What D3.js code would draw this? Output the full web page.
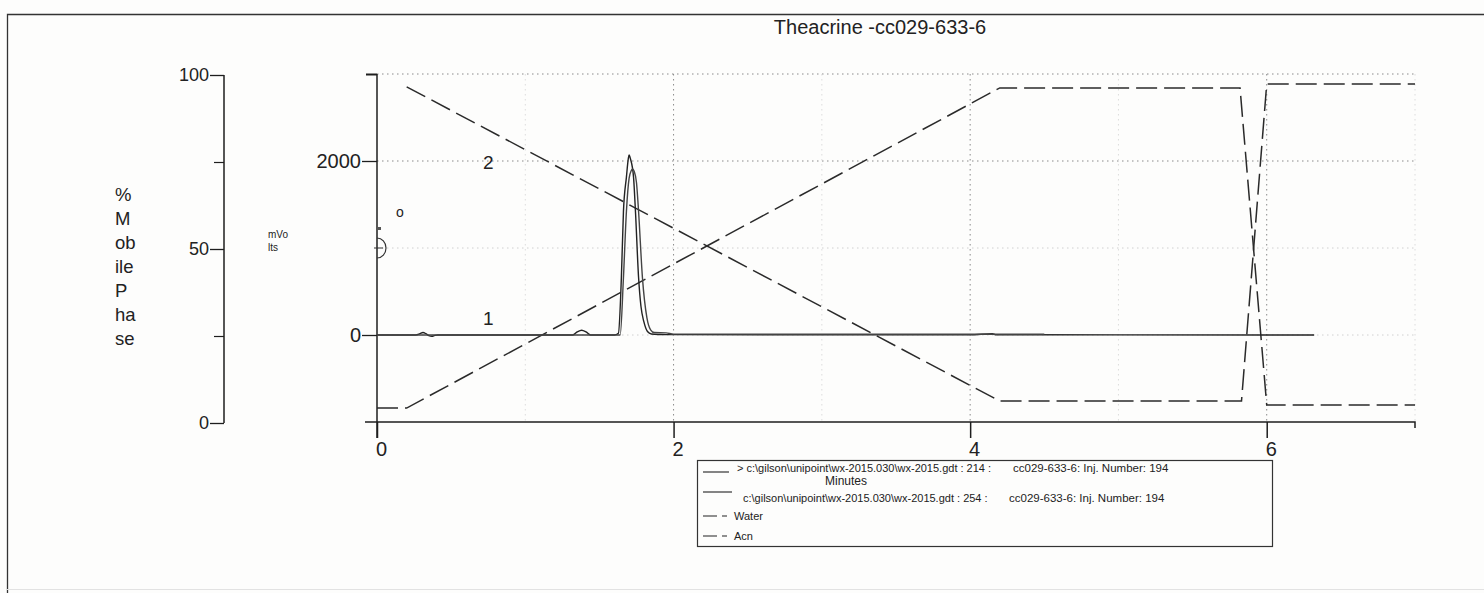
<!DOCTYPE html>
<html>
<head>
<meta charset="utf-8">
<script src="https://cdn.jsdelivr.net/npm/d3@7"></script>
<style>
  html, body { margin: 0; padding: 0; background: #fdfdfc; }
  svg { display: block; }
  text { font-family: "Liberation Sans", Arial, sans-serif; fill: #222; }
</style>
</head>
<body>
<svg id="chart" width="1484" height="593"></svg>
<script>
// ---------------- DATA ----------------
const title = "Theacrine -cc029-633-6";
const xTicks = [0, 2, 4, 6];
const mvTicks = [0, 2000];
const pctTicks = [0, 50, 100];
const pctMinorTicks = [25, 75];

// Channel 214 (time in min, mV)
const trace214Time = [0, 0.26, 0.29, 0.31, 0.33, 0.35, 0.37, 0.39, 0.41, 0.5, 1.0, 1.32, 1.35, 1.38, 1.41, 1.44, 1.6, 1.628, 1.648, 1.662, 1.682, 1.695, 1.70, 1.71, 1.73, 1.743, 1.764, 1.78, 1.80, 1.824, 1.85, 1.9, 2.0, 3.0, 4.0, 4.15, 4.17, 5.0, 6.32];
const trace214Mv   = [0, 0, 15, 28, 15, -8, -15, -5, 0, 0, 0, 0, 35, 55, 35, 0, 0, 20, 660, 1420, 1815, 2030, 2070, 2020, 1815, 1420, 660, 330, 150, 40, 12, 6, 4, 3, 3, 15, 3, 2, 0];

// Channel 254 (time in min, mV)
const trace254Time = [0, 0.5, 1.0, 1.5, 1.64, 1.662, 1.682, 1.70, 1.715, 1.723, 1.735, 1.75, 1.764, 1.79, 1.82, 1.845, 1.87, 1.95, 2.0, 3.0, 4.0, 4.5];
const trace254Mv   = [0, 0, 0, 0, 0, 660, 1420, 1800, 1890, 1908, 1880, 1750, 1420, 660, 200, 60, 28, 25, 10, 8, 8, 8];

// Gradient (% mobile phase)
const waterTime = [0.2, 4.2, 5.83, 6.0, 7.0];
const waterPct  = [96.6, 6.3, 6.3, 97.4, 97.4];
const acnTime   = [0, 0.2, 4.2, 5.82, 6.0, 7.0];
const acnPct    = [4.3, 4.3, 96.3, 96.3, 5.2, 5.2];

const legendFiles = ["> c:\\gilson\\unipoint\\wx-2015.030\\wx-2015.gdt : 214 :", "c:\\gilson\\unipoint\\wx-2015.030\\wx-2015.gdt : 254 :"];
const legendInj = ["cc029-633-6: Inj. Number: 194", "cc029-633-6: Inj. Number: 194"];
const legendGradient = ["Water", "Acn"];
const pctLabelLines = ["%", "M", "ob", "ile", "P", "ha", "se"];

// ---------------- SCALES ----------------
const svg = d3.select("#chart");
const x = d3.scaleLinear([0, 7], [377, 1415]);
const yMv = d3.scaleLinear([-1000, 3000], [422, 74]);
const yPct = d3.scaleLinear([0, 100], [423, 75]);

const ink = "#1e1e1e";

// page frame
svg.append("path").attr("d", "M7.5,600 V14.5 H1490").attr("fill", "none").attr("stroke", "#333").attr("stroke-width", 1.3);
svg.append("line").attr("x1", 7).attr("x2", 1484).attr("y1", 589.5).attr("y2", 589.5).attr("stroke", "#e2e2e2").attr("stroke-width", 1);

// title
svg.append("text").attr("x", 880).attr("y", 34).attr("text-anchor", "middle").style("font-size", "20px").text(title);

// ---------------- GRID ----------------
const grid = svg.append("g").attr("stroke", "#8a8a8a").attr("stroke-width", 1).attr("stroke-dasharray", "1.5,3.5").attr("fill", "none");
[3000, 2000].forEach(v => grid.append("line").attr("x1", x(0)).attr("x2", x(7)).attr("y1", yMv(v)).attr("y2", yMv(v)));
[1000, 0].forEach(v => grid.append("line").attr("x1", x(0)).attr("x2", x(7)).attr("y1", yMv(v)).attr("y2", yMv(v)).attr("stroke", "#d0d0d0"));
[2, 4, 6].forEach(v => grid.append("line").attr("x1", x(v)).attr("x2", x(v)).attr("y1", yMv(3000)).attr("y2", yMv(-1000)));
[1, 3, 5, 7].forEach(v => grid.append("line").attr("x1", x(v)).attr("x2", x(v)).attr("y1", yMv(3000)).attr("y2", yMv(-1000)).attr("stroke", "#dcdcdc"));

// ---------------- % MOBILE PHASE AXIS ----------------
const pctAxis = svg.append("g").attr("transform", "translate(224,0)")
  .call(d3.axisLeft(yPct).tickValues(pctTicks).tickSize(14).tickPadding(1).tickFormat(d3.format("d")));
pctAxis.select(".domain").attr("stroke", ink).attr("stroke-width", 1.5).attr("d", `M0,${yPct(100)}V${yPct(0)}`);
pctAxis.selectAll(".tick line").attr("stroke", ink).attr("stroke-width", 1.3);
pctAxis.selectAll(".tick text").style("font-size", "18px").style("font-family", "Liberation Sans, Arial, sans-serif").attr("fill", "#222");
const pctMinor = svg.append("g").attr("transform", "translate(224,0)")
  .call(d3.axisLeft(yPct).tickValues(pctMinorTicks).tickSize(10).tickFormat(""));
pctMinor.select(".domain").remove();
pctMinor.selectAll(".tick line").attr("stroke", ink).attr("stroke-width", 1.2);

const pctLabel = svg.append("text").attr("x", 115).attr("y", 201).style("font-size", "18.5px");
pctLabelLines.forEach((s, i) => pctLabel.append("tspan").attr("x", 115).attr("dy", i === 0 ? 0 : 24).text(s));

// mVolts label
const mvLabel = svg.append("text").attr("x", 268).attr("y", 238).style("font-size", "10px").style("font-family", "Liberation Sans Narrow, Arial Narrow, Liberation Sans, sans-serif");
mvLabel.append("tspan").attr("x", 268).text("mVo");
mvLabel.append("tspan").attr("x", 268).attr("dy", 13).text("lts");

// ---------------- mV AXIS ----------------
const mvAxis = svg.append("g").attr("transform", `translate(${x(0)},0)`)
  .call(d3.axisLeft(yMv).tickValues(mvTicks).tickSize(15).tickPadding(1).tickFormat(d3.format("d")));
mvAxis.select(".domain").attr("stroke", ink).attr("stroke-width", 1.5).attr("d", `M0,${yMv(3000)}V${yMv(-1000) + 16}`);
mvAxis.selectAll(".tick line").attr("stroke", ink).attr("stroke-width", 1.3);
mvAxis.selectAll(".tick text").style("font-size", "20px").style("font-family", "Liberation Sans, Arial, sans-serif").attr("fill", "#222");
const mvTop = svg.append("g").attr("transform", `translate(${x(0)},0)`)
  .call(d3.axisLeft(yMv).tickValues([3000]).tickSize(11).tickFormat(""));
mvTop.select(".domain").remove();
mvTop.selectAll(".tick line").attr("stroke", ink).attr("stroke-width", 2);

// ---------------- TIME AXIS ----------------
const xAxis = svg.append("g").attr("transform", `translate(0,${yMv(-1000)})`)
  .call(d3.axisBottom(x).tickValues(xTicks).tickSize(16).tickPadding(4).tickFormat(d3.format("d")));
xAxis.select(".domain").attr("stroke", ink).attr("stroke-width", 1.5).attr("d", `M${x(0) - 12},0H${x(7)}V6`);
xAxis.selectAll(".tick line").attr("stroke", ink).attr("stroke-width", 1.5);
xAxis.selectAll(".tick text").style("font-size", "20px").style("font-family", "Liberation Sans, Arial, sans-serif").attr("fill", "#222").attr("dx", 4);

// ---------------- GRADIENT LINES ----------------
const pctLine = d3.line().x(d => x(d[0])).y(d => yPct(d[1]));
svg.append("path").datum(d3.zip(waterTime, waterPct)).attr("d", pctLine)
  .attr("fill", "none").attr("stroke", "#2a2a2a").attr("stroke-width", 1.5).attr("stroke-dasharray", "21,7");
svg.append("path").datum(d3.zip(acnTime, acnPct)).attr("d", pctLine)
  .attr("fill", "none").attr("stroke", "#2a2a2a").attr("stroke-width", 1.5).attr("stroke-dasharray", "21,7");

// ---------------- CHROMATOGRAM TRACES ----------------
const mvLine = d3.line().x(d => x(d[0])).y(d => yMv(d[1])).curve(d3.curveMonotoneX);
svg.append("path").datum(d3.zip(trace214Time, trace214Mv)).attr("d", mvLine)
  .attr("fill", "none").attr("stroke", "#222").attr("stroke-width", 1.4);
svg.append("path").datum(d3.zip(trace254Time, trace254Mv)).attr("d", mvLine)
  .attr("fill", "none").attr("stroke", "#444").attr("stroke-width", 1.4);

// channel labels
svg.append("text").attr("x", x(0.75)).attr("y", yMv(2000) + 8).attr("text-anchor", "middle").style("font-size", "19px").text("2");
svg.append("text").attr("x", x(0.75)).attr("y", yMv(200) + 7).attr("text-anchor", "middle").style("font-size", "19px").text("1");

// injection marker near axis
svg.append("path")
  .attr("d", `M${x(0) - 3},${yMv(1000)} H${x(0) + 6} M${x(0)},${yMv(1000) - 10} A9,10 0 0 1 ${x(0)},${yMv(1000) + 10}`)
  .attr("fill", "none").attr("stroke", "#333").attr("stroke-width", 1.2);
svg.append("rect").attr("x", x(0) + 1).attr("y", yMv(1000) - 21).attr("width", 3).attr("height", 3).attr("fill", "#555");
svg.append("text").attr("x", x(0.155)).attr("y", yMv(1410) + 5).attr("text-anchor", "middle").style("font-size", "14px").text("o");

// ---------------- LEGEND ----------------
const lg = svg.append("g");
lg.append("rect").attr("x", 697.5).attr("y", 460.5).attr("width", 575).attr("height", 86)
  .attr("fill", "none").attr("stroke", "#333").attr("stroke-width", 1.2);
const rowY = [472, 502, 520, 540];
// sample lines
lg.append("line").attr("x1", 703).attr("x2", 729).attr("y1", rowY[0]).attr("y2", rowY[0]).attr("stroke", "#222").attr("stroke-width", 1.1);
lg.append("line").attr("x1", 703).attr("x2", 732).attr("y1", rowY[1] - 10).attr("y2", rowY[1] - 10).attr("stroke", "#222").attr("stroke-width", 1.1);
[2, 3].forEach(i => {
  lg.append("line").attr("x1", 703).attr("x2", 728).attr("y1", rowY[i] - 4).attr("y2", rowY[i] - 4)
    .attr("stroke", "#222").attr("stroke-width", 1.2).attr("stroke-dasharray", "14,5,5,5");
});
lg.append("text").attr("x", 737).attr("y", rowY[0]).style("font-size", "11px").text(legendFiles[0]);
lg.append("text").attr("x", 1013).attr("y", rowY[0]).style("font-size", "11.5px").text(legendInj[0]);
lg.append("text").attr("x", 743).attr("y", rowY[1]).style("font-size", "11px").text(legendFiles[1]);
lg.append("text").attr("x", 1009).attr("y", rowY[1]).style("font-size", "11.5px").text(legendInj[1]);
lg.append("text").attr("x", 734).attr("y", rowY[2]).style("font-size", "11px").text(legendGradient[0]);
lg.append("text").attr("x", 734).attr("y", rowY[3]).style("font-size", "11px").text(legendGradient[1]);

// x-axis title
svg.append("text").attr("x", 846).attr("y", 485).attr("text-anchor", "middle").style("font-size", "12px").text("Minutes");
</script>
</body>
</html>
